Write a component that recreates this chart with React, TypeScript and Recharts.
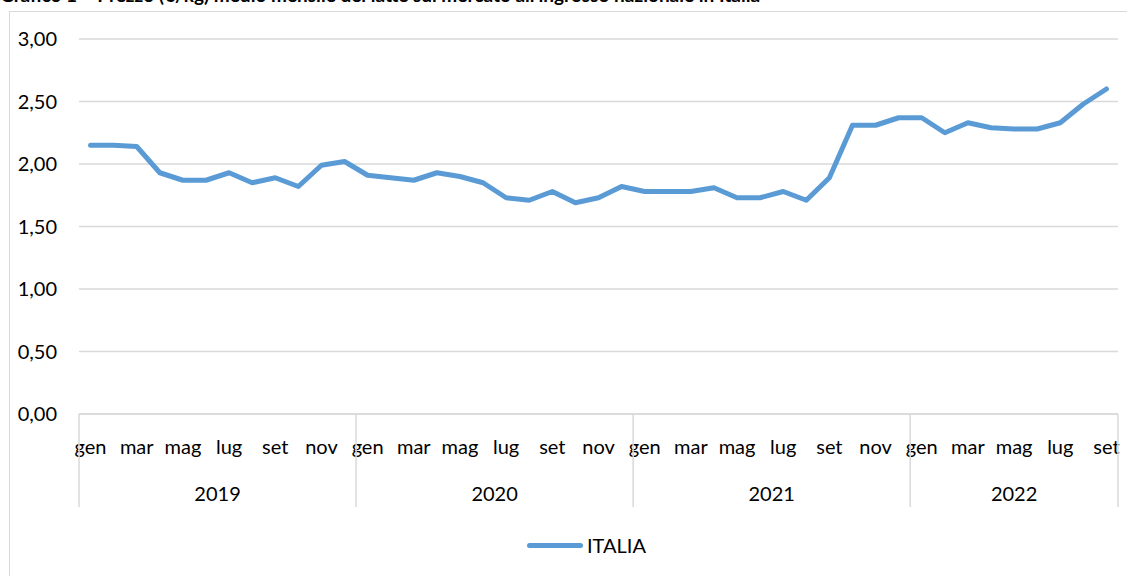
import React from "react";
import { LineChart, Line, XAxis, YAxis, CartesianGrid } from "recharts";

const monthNames = ["gen", "feb", "mar", "apr", "mag", "giu", "lug", "ago", "set", "ott", "nov", "dic"];
const years = ["2019", "2020", "2021", "2022"];
const seriesName = "ITALIA";
const italia = [
  2.15, 2.15, 2.14, 1.93, 1.87, 1.87, 1.93, 1.85, 1.89, 1.82, 1.99, 2.02,
  1.91, 1.89, 1.87, 1.93, 1.90, 1.85, 1.73, 1.71, 1.78, 1.69, 1.73, 1.82,
  1.78, 1.78, 1.78, 1.81, 1.73, 1.73, 1.78, 1.71, 1.89, 2.31, 2.31, 2.37,
  2.37, 2.25, 2.33, 2.29, 2.28, 2.28, 2.33, 2.48, 2.60,
];
const yTicks = [0, 0.5, 1, 1.5, 2, 2.5, 3];

const data = italia.map((v, i) => ({
  idx: i,
  month: monthNames[i % 12],
  year: years[Math.floor(i / 12)],
  ITALIA: v,
}));
const xTicks = data.map((d) => d.idx);

const FONT = "Lato, 'Open Sans', sans-serif";
const HALF = 1039 / 45 / 2;
const GRID = "#d9d9d9";
const FS = 20;

const MonthTick = (props: any) => {
  const { x, y, payload } = props;
  const i = payload.value as number;
  const n = data.length;
  const d = data[i];
  const items: any[] = [];
  if (i % 2 === 0) {
    items.push(
      <text key="m" x={x} y={y + 32} textAnchor="middle" dominantBaseline="central" fontSize={FS} fill="#000" fontFamily={FONT}>
        {d.month}
      </text>
    );
  }
  if (i % 12 === 0) {
    items.push(<line key="s" x1={x - HALF} x2={x - HALF} y1={y} y2={y + 93} stroke={GRID} strokeWidth={1.5} />);
  }
  if (i === n - 1) {
    items.push(<line key="e" x1={x + HALF} x2={x + HALF} y1={y} y2={y + 93} stroke={GRID} strokeWidth={1.5} />);
  }
  const yearStart = Math.floor(i / 12) * 12;
  const yearEnd = Math.min(yearStart + 12, n);
  const mid = (yearStart + yearEnd - 1) / 2;
  if (Math.floor(mid) === i) {
    const off = (mid - i) * HALF * 2;
    items.push(
      <text key="y" x={x + off} y={y + 79} textAnchor="middle" dominantBaseline="central" fontSize={FS} fill="#000" fontFamily={FONT}>
        {d.year}
      </text>
    );
  }
  return <g>{items}</g>;
};

export default function App() {
  return (
    <div style={{ position: "absolute", left: 0, top: 0, width: 1127, height: 576, overflow: "hidden", background: "#fff" }}>
      <div
        style={{
          position: "absolute",
          left: 0,
          top: -17,
          fontFamily: FONT,
          fontWeight: 700,
          fontSize: 19,
          whiteSpace: "nowrap",
          color: "#000",
        }}
      >
        Grafico 1 – Prezzo (€/kg) medio mensile del latte sul mercato all'ingrosso nazionale in Italia
      </div>
      <div
        style={{
          position: "absolute",
          left: 9,
          top: 11,
          width: 1300,
          height: 700,
          border: `1.5px solid ${GRID}`,
          boxSizing: "border-box",
        }}
      />
      <div style={{ position: "absolute", left: 0, top: 0 }}>
        <LineChart width={1127} height={576} data={data} margin={{ top: 39, right: 9, left: 0, bottom: 62 }}>
          <CartesianGrid vertical={false} stroke={GRID} strokeWidth={1.5} />
          <YAxis
            width={79}
            domain={[0, 3]}
            ticks={yTicks}
            axisLine={false}
            tickLine={false}
            tickSize={0}
            tickMargin={22}
            tickFormatter={(v: number) => v.toFixed(2).replace(".", ",")}
            tick={{ fontSize: FS, fill: "#000", fontFamily: FONT }}
          />
          <XAxis
            dataKey="idx"
            type="number"
            domain={[-0.5, data.length - 0.5]}
            ticks={xTicks}
            interval={0}
            height={100}
            axisLine={{ stroke: GRID, strokeWidth: 1.5 }}
            tickLine={false}
            tickSize={0}
            tickMargin={0}
            tick={<MonthTick />}
          />
          <Line
            type="linear"
            dataKey="ITALIA"
            name={seriesName}
            stroke="#5b9bd5"
            strokeWidth={5}
            dot={false}
            activeDot={false}
            isAnimationActive={false}
            strokeLinejoin="round"
            strokeLinecap="round"
          />
        </LineChart>
      </div>
      <div
        style={{
          position: "absolute",
          left: 527,
          top: 532,
          display: "flex",
          alignItems: "center",
          height: 26,
          fontFamily: FONT,
          fontSize: FS,
          color: "#000",
        }}
      >
        <div style={{ width: 56, height: 5, background: "#5b9bd5", borderRadius: 3, marginRight: 4 }} />
        <span>{seriesName}</span>
      </div>
    </div>
  );
}
